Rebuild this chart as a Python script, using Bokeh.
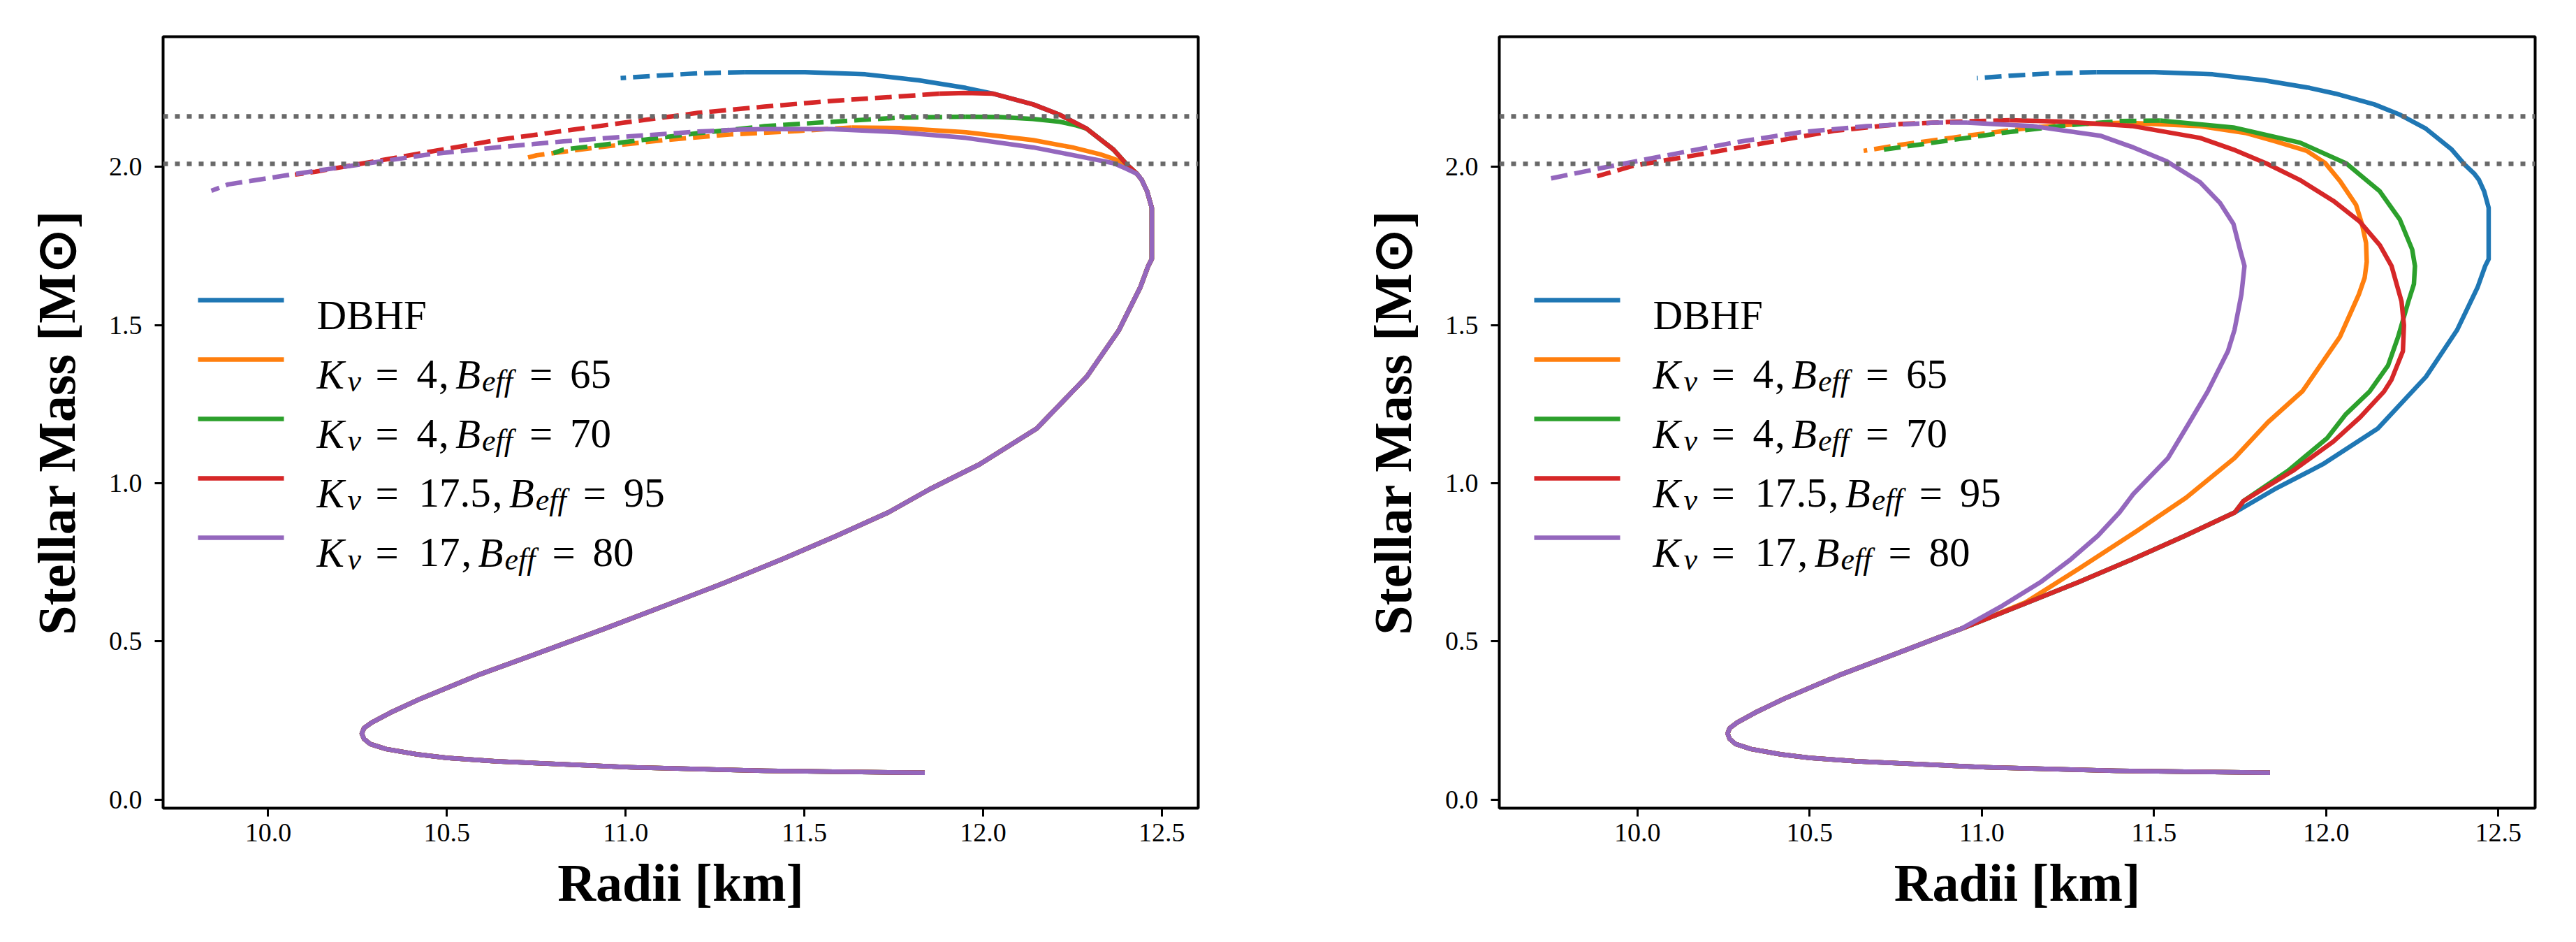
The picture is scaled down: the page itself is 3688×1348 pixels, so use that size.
from bokeh.plotting import figure
from bokeh.models import Range1d, FixedTicker, PrintfTickFormatter, Span, Label, Arrow
from bokeh.layouts import row
from bokeh.embed import file_html
from bokeh.resources import INLINE

# ---------------- data ----------------
# common hadronic (DBHF) stable branch, from the low-mass end upwards
HAD_R = [11.837, 11.39, 11.015, 10.64, 10.50, 10.417, 10.33, 10.285, 10.268, 10.262,
         10.268, 10.29, 10.342, 10.426, 10.585, 10.762, 10.94, 11.11, 11.28, 11.44,
         11.59, 11.735, 11.85, 11.99, 12.15, 12.29, 12.38, 12.44, 12.462, 12.472,
         12.472, 12.459, 12.444, 12.431, 12.403, 12.365, 12.29, 12.215, 12.14, 12.027,
         11.952, 11.821, 11.671, 11.502, 11.333]
HAD_M = [0.085, 0.091, 0.102, 0.121, 0.132, 0.143, 0.160, 0.176, 0.192, 0.209,
         0.226, 0.244, 0.275, 0.319, 0.393, 0.466, 0.540, 0.613, 0.687, 0.761,
         0.834, 0.908, 0.981, 1.060, 1.173, 1.337, 1.484, 1.620, 1.687, 1.709,
         1.871, 1.923, 1.959, 1.978, 2.007, 2.055, 2.121, 2.165, 2.198, 2.232,
         2.250, 2.274, 2.293, 2.300, 2.300]
# DBHF unstable branch (dashed)
DBHF_DR = [11.333, 11.202, 11.089, 10.986]
DBHF_DM = [2.300, 2.296, 2.289, 2.281]

# ---- left panel: hybrid branches (join mass on the DBHF curve, solid part, dashed part)
L_JOIN = [1.978, 2.121, 2.232, 1.978]          # orange, green, red, purple
L_OR_R = [12.405, 12.37, 12.328, 12.25, 12.14, 11.952, 11.765, 11.633]
L_OR_M = [2.000, 2.024, 2.040, 2.062, 2.085, 2.110, 2.123, 2.125]
L_OR_DR = [11.633, 11.483, 11.295, 11.108, 10.92, 10.751, 10.714]
L_OR_DM = [2.125, 2.114, 2.103, 2.085, 2.062, 2.037, 2.026]
L_GR_R = [12.262, 12.215, 12.14, 12.046, 11.952]
L_GR_M = [2.131, 2.143, 2.152, 2.158, 2.159]
L_GR_DR = [11.952, 11.765, 11.577, 11.389, 11.202, 11.014, 10.826, 10.798]
L_GR_DM = [2.159, 2.156, 2.143, 2.129, 2.107, 2.081, 2.055, 2.044]
L_RD_R = [11.95, 11.877]
L_RD_M = [2.234, 2.232]
L_RD_DR = [11.877, 11.765, 11.577, 11.389, 11.202, 11.014, 10.826, 10.639, 10.451, 10.263, 10.132, 10.075]
L_RD_DM = [2.232, 2.223, 2.209, 2.191, 2.171, 2.143, 2.114, 2.085, 2.048, 2.011, 1.985, 1.976]
L_PU_R = [12.40, 12.365, 12.29, 12.14, 11.952, 11.765, 11.577, 11.389, 11.314]
L_PU_M = [1.995, 2.012, 2.029, 2.062, 2.092, 2.110, 2.120, 2.120, 2.118]
L_PU_DR = [11.314, 11.202, 11.014, 10.826, 10.639, 10.451, 10.263, 10.075, 9.888, 9.841]
L_PU_DM = [2.118, 2.112, 2.097, 2.081, 2.062, 2.040, 2.009, 1.978, 1.945, 1.925]

# ---- right panel
R_JOIN = [0.540, 0.908, 0.908, 0.540]          # orange, green, red, purple
R_OR_R = [11.03, 11.128, 11.283, 11.45, 11.594, 11.734, 11.831, 11.932, 12.04, 12.095,
          12.112, 12.118, 12.116, 12.104, 12.087, 12.04, 11.997, 11.944, 11.85, 11.769,
          11.634, 11.421]
R_OR_M = [0.580, 0.624, 0.731, 0.849, 0.955, 1.080, 1.193, 1.292, 1.463, 1.597,
          1.650, 1.700, 1.760, 1.820, 1.880, 1.956, 2.013, 2.051, 2.082, 2.107,
          2.129, 2.140]
R_OR_DR = [11.421, 11.285, 11.15, 10.957, 10.763, 10.657]
R_OR_DM = [2.140, 2.136, 2.125, 2.099, 2.070, 2.051]
R_GR_R = [11.76, 11.89, 12.003, 12.056, 12.126, 12.18, 12.209, 12.239, 12.255, 12.258,
          12.25, 12.214, 12.156, 12.059, 11.924, 11.731, 11.518]
R_GR_M = [0.944, 1.040, 1.143, 1.217, 1.290, 1.373, 1.463, 1.575, 1.630, 1.687,
          1.739, 1.834, 1.923, 2.011, 2.077, 2.125, 2.147]
R_GR_DR = [11.518, 11.402, 11.247, 11.053, 10.86, 10.715]
R_GR_DM = [2.147, 2.145, 2.132, 2.107, 2.077, 2.055]
R_RD_R = [11.76, 11.904, 12.021, 12.099, 12.168, 12.19, 12.223, 12.226, 12.219, 12.19,
          12.156, 12.098, 12.021, 11.924, 11.827, 11.731, 11.634, 11.44, 11.247, 11.082]
R_RD_M = [0.944, 1.040, 1.132, 1.209, 1.290, 1.328, 1.418, 1.500, 1.575, 1.687,
          1.753, 1.827, 1.893, 1.959, 2.011, 2.055, 2.092, 2.129, 2.143, 2.148]
R_RD_DR = [11.082, 10.918, 10.763, 10.57, 10.376, 10.183, 9.989, 9.883]
R_RD_DM = [2.148, 2.143, 2.136, 2.114, 2.077, 2.040, 2.004, 1.971]
R_PU_R = [11.06, 11.17, 11.26, 11.337, 11.40, 11.44, 11.541, 11.60, 11.656, 11.715,
          11.734, 11.754, 11.763, 11.75, 11.731, 11.692, 11.634, 11.537, 11.44, 11.344,
          11.15, 10.957]
R_PU_M = [0.613, 0.687, 0.761, 0.834, 0.908, 0.966, 1.080, 1.187, 1.290, 1.418,
          1.485, 1.597, 1.687, 1.739, 1.820, 1.886, 1.952, 2.018, 2.062, 2.099,
          2.129, 2.140]
R_PU_DR = [10.957, 10.86, 10.666, 10.473, 10.279, 10.086, 9.892, 9.74]
R_PU_DM = [2.140, 2.140, 2.129, 2.110, 2.077, 2.037, 1.996, 1.962]

HLINES = [2.01, 2.16]
X_TICKS = [10.0, 10.5, 11.0, 11.5, 12.0, 12.5]
Y_TICKS = [0.0, 0.5, 1.0, 1.5, 2.0]
KV = ["4", "4", "17.5", "17"]
BEFF = ["65", "70", "95", "80"]
X_LABEL = "Radii [km]"
Y_LABEL = "Stellar Mass [M\u2299]"
COLORS = ["#1f77b4", "#ff7f0e", "#2ca02c", "#d62728", "#9467bd"]

FONT = "Liberation Serif"
LW = 6.5
DASH = "24 10"


def hybrid(join_m, br_r, br_m):
    j = next(i for i, m in enumerate(HAD_M) if m >= join_m)
    return HAD_R[:j + 1] + br_r, HAD_M[:j + 1] + br_m


def text(p, s, x, y, size, style="normal"):
    p.add_layout(Label(x=x, y=y, x_units="screen", y_units="screen", text=s,
                       text_font=FONT, text_font_size=f"{size}px", text_font_style=style,
                       text_color="black", text_align="left", text_baseline="alphabetic"))


def digits_width(s, size):
    return sum((0.25 if ch in ".," else 0.5) * size for ch in s)


def make_panel(xr, width, border_left, border_right, series):
    p = figure(width=width, height=1332, x_range=Range1d(*xr), y_range=Range1d(-0.027, 2.412),
               output_backend="svg", toolbar_location=None,
               min_border_left=border_left, min_border_right=border_right,
               min_border_top=52, min_border_bottom=176)
    p.background_fill_color = "white"
    p.border_fill_color = "white"
    p.xgrid.visible = False
    p.ygrid.visible = False
    p.outline_line_color = "black"
    p.outline_line_width = 4
    for ax, ticks in ((p.xaxis, X_TICKS), (p.yaxis, Y_TICKS)):
        ax.ticker = FixedTicker(ticks=ticks)
        ax.formatter = PrintfTickFormatter(format="%.1f")
        ax.axis_line_color = None
        ax.major_tick_out = 12
        ax.major_tick_in = 0
        ax.major_tick_line_width = 3
        ax.major_tick_line_color = "black"
        ax.minor_tick_line_color = None
        ax.major_label_text_font = FONT
        ax.major_label_text_font_size = "38px"
        ax.major_label_text_color = "black"
        ax.axis_label_text_font = FONT
        ax.axis_label_text_font_size = "76px"
        ax.axis_label_text_font_style = "bold"
        ax.axis_label_text_color = "black"
    p.xaxis.major_label_standoff = 10
    p.yaxis.major_label_standoff = 18
    p.xaxis.axis_label = X_LABEL
    p.yaxis.axis_label = Y_LABEL
    p.xaxis.axis_label_standoff = 14
    p.yaxis.axis_label_standoff = 30

    # curves: DBHF first, then hybrids
    p.line(HAD_R, HAD_M, line_color=COLORS[0], line_width=LW, line_join="round")
    p.line(DBHF_DR, DBHF_DM, line_color=COLORS[0], line_width=LW, line_dash=DASH)
    for k, (sr, sm, dr, dm) in enumerate(series):
        c = COLORS[k + 1]
        p.line(sr, sm, line_color=c, line_width=LW, line_join="round")
        p.line(dr, dm, line_color=c, line_width=LW, line_dash=DASH)

    for h in HLINES:
        p.add_layout(Span(location=h, dimension="width", line_color="#696969",
                          line_width=LW, line_dash="7 10"))

    # legend (frame-relative screen units)
    for i in range(5):
        yc = 727 - 85 * i
        p.add_layout(Arrow(end=None, start=None, x_start=50, y_start=yc, x_end=173, y_end=yc,
                           start_units="screen", end_units="screen",
                           line_color=COLORS[i], line_width=LW))
        yb = yc - 21
        x0 = 220
        if i == 0:
            text(p, "DBHF", x0, yb, 59)
            continue
        kv, be = KV[i - 1], BEFF[i - 1]
        text(p, "K", x0, yb, 59, "italic")
        text(p, "v", x0 + 44, yb - 10, 44, "italic")
        text(p, "=", x0 + 84, yb, 59)
        vx = x0 + (143 if len(kv) == 1 else 146)
        text(p, kv, vx, yb, 59)
        cx = vx + digits_width(kv, 59) + 2
        text(p, ",", cx, yb, 59)
        bx = cx + 24
        text(p, "B", bx, yb, 59, "italic")
        text(p, "eff", bx + 38, yb - 10, 44, "italic")
        text(p, "=", bx + 106, yb, 59)
        text(p, be, bx + 164, yb, 59)
    return p


left_series = [
    hybrid(L_JOIN[0], L_OR_R, L_OR_M) + (L_OR_DR, L_OR_DM),
    hybrid(L_JOIN[1], L_GR_R, L_GR_M) + (L_GR_DR, L_GR_DM),
    hybrid(L_JOIN[2], L_RD_R, L_RD_M) + (L_RD_DR, L_RD_DM),
    hybrid(L_JOIN[3], L_PU_R, L_PU_M) + (L_PU_DR, L_PU_DM),
]
right_series = [
    hybrid(R_JOIN[0], R_OR_R, R_OR_M) + (R_OR_DR, R_OR_DM),
    hybrid(R_JOIN[1], R_GR_R, R_GR_M) + (R_GR_DR, R_GR_DM),
    hybrid(R_JOIN[2], R_RD_R, R_RD_M) + (R_RD_DR, R_RD_DM),
    hybrid(R_JOIN[3], R_PU_R, R_PU_M) + (R_PU_DR, R_PU_DM),
]

p1 = make_panel((9.706, 12.602), 1921, 233, 206, left_series)
p2 = make_panel((9.599, 12.607), 1748, 225, 40, right_series)

layout = row(p1, p2)
open("out.html", "w").write(file_html(layout, INLINE))
